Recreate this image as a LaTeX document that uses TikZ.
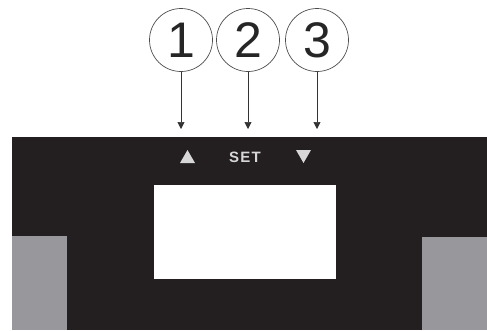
\documentclass[tikz,border=0pt]{standalone}
\usepackage{fontspec}
\setmainfont{Liberation Sans}
\usetikzlibrary{arrows.meta}
\definecolor{panel}{RGB}{35,31,32}
\definecolor{side}{RGB}{152,152,156}
\definecolor{symb}{RGB}{215,215,215}
\tikzset{
  num/.style={circle,draw=black!70,line width=0.7pt,minimum size=63pt,inner sep=0pt,
    font=\fontsize{50}{50}\selectfont,text=black!85},
  pointer/.style={draw=black!80,line width=0.7pt,-{Triangle[width=7pt,length=7pt]}},
  key/.style={inner sep=0pt,text=symb}
}
\begin{document}
\begin{tikzpicture}[x=1pt,y=-1pt]
\useasboundingbox (0,0) rectangle (487,330);
\fill[white] (0,0) rectangle (487,330);
% body
\fill[panel] (12,137) rectangle (487,330);
\fill[side] (12,236) rectangle (67,330);
\fill[side] (422,237) rectangle (487,330);
\fill[white] (154,185) rectangle (336,279);
% keys
\fill[symb] (180,163) -- (195,163) -- (187.5,150) -- cycle;
\node[key,font=\bfseries\fontsize{15}{15}\selectfont\addfontfeature{LetterSpace=8}] (set) at (245,157) {SET};
\fill[symb] (296,150) -- (311,150) -- (303.5,163) -- cycle;
% callouts
\node[num] (n1) at (181,40) {1};
\node[num] (n2) at (248,40) {2};
\node[num] (n3) at (317,40) {3};
\coordinate (e1) at (181,129);
\coordinate (e2) at (248,129);
\coordinate (e3) at (317,129);
\draw[pointer] (n1) -- (e1);
\draw[pointer] (n2) -- (e2);
\draw[pointer] (n3) -- (e3);
\end{tikzpicture}
\end{document}
